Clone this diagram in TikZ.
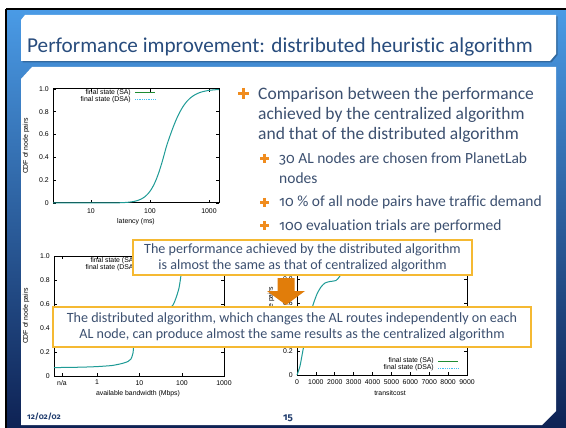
\documentclass[tikz,border=0pt]{standalone}
\usepackage{fontspec}
\setmainfont{Carlito}[Ligatures=NoCommon]
\newfontfamily\osf{Fira Sans}[Numbers=OldStyle]
\newfontfamily\plotfont{Liberation Sans}
\newcommand\plotfs{\plotfont\fontsize{6.9}{8}\selectfont}
\newcommand\titlefs{\fontsize{21.2}{24}\selectfont}
\newcommand\mainfs{\fontsize{17.5}{20}\selectfont}
\newcommand\subfs{\fontsize{15.5}{17}\selectfont}
\newcommand\calloutfs{\fontsize{14.1}{16}\selectfont}
\newcommand\onum[1]{{\osf\fontsize{0.92\dimexpr\csname f@size\endcsname pt\relax}{10}\selectfont #1}}
\definecolor{bgtop}{RGB}{74,155,230}
\definecolor{bgmid}{RGB}{42,105,190}
\definecolor{bgbot}{RGB}{14,34,84}
\definecolor{titlecol}{RGB}{40,76,125}
\definecolor{textcol}{RGB}{60,80,112}
\definecolor{footcol}{RGB}{32,60,110}
\definecolor{pluscol}{RGB}{240,140,30}
\definecolor{calloutcol}{RGB}{245,185,50}
\definecolor{arrowcol}{RGB}{225,125,10}
\definecolor{curvecol}{RGB}{30,155,150}
\definecolor{sagreen}{RGB}{30,140,50}
\definecolor{dsacyan}{RGB}{70,190,240}
\begin{document}
\begin{tikzpicture}[x=1pt,y=-1pt,
  declare function={logi(\z)=1/(1+exp(-1.702*max(-5,min(5,\z))));
    zA(\x)=((\x-166.5)/59)/((\x<166.5)*0.22+(\x>=166.5)*0.28);},
  frame/.style={draw=black,line width=1},
  tickline/.style={black,line width=0.7},
  ylab/.style={anchor=east,font=\plotfs,inner sep=0},
  xlab/.style={anchor=north,font=\plotfs,inner sep=0},
  axlab/.style={font=\plotfs,inner sep=0},
  leg/.style={anchor=east,font=\plotfs,inner sep=0},
  curve/.style={draw=curvecol,line width=1},
  salegend/.style={draw=sagreen,line width=1},
  dsalegend/.style={draw=dsacyan,line width=1,dash pattern=on 1pt off 0.8pt},
  callout/.style={draw=calloutcol,line width=1.5,fill=white,inner sep=0,align=center,text=textcol,font=\calloutfs},
  bodytext/.style={anchor=base west,inner sep=0,text=textcol},
  plusmark/.style={draw=pluscol,line width=2.4},
  subplus/.style={draw=pluscol,line width=2.1},
]
\useasboundingbox (0,0) rectangle (566,428);
\fill[white] (0,0) rectangle (566,428);
% slide background
\shade[top color=bgtop, middle color=bgmid, bottom color=bgbot] (6,9) rectangle (566,428);
\draw[black,line width=2] (6,9) -- (566,9);
\draw[black,line width=2] (6,9) -- (6,428);
% title box
\fill[black,opacity=0.25] (26.5,16.5) -- (557.5,16.5) -- (557.5,55) -- (551.5,62.5) -- (22.5,62.5) -- (22.5,21.5) -- cycle;
\fill[white] (25,15) -- (556,15) -- (556,54) -- (550,61) -- (21,61) -- (21,20) -- cycle;
% content box
\fill[white] (32,67) -- (556,67) -- (556,411) -- (542,425) -- (21,425) -- (21,79) -- cycle;
\node[anchor=base west,inner sep=0,font=\titlefs,text=titlecol] (title) at (27,53) {Performance improvement: distributed heuristic algorithm};

% ---------- plot 1: latency ----------
\draw[frame] (53,89) rectangle (219,203);
\foreach \c/\t [count=\i] in {0/0,0.2/0.2,0.4/0.4,0.6/0.6,0.8/0.8,1/1.0}{
  \draw[tickline] (53,{203-114*\c}) -- ++(3,0);
  \draw[tickline] (219,{203-114*\c}) -- ++(-3,0);
  \node[ylab] (pay\i) at (49,{203-114*\c}) {\t};
}
\foreach \p/\t [count=\i] in {91/10,150/100,209/1000}{
  \draw[tickline] (\p,203) -- ++(0,-3);
  \draw[tickline] (\p,89) -- ++(0,3);
  \node[xlab] (pax\i) at (\p,208) {\t};
}
\node[axlab] (paxl) at (136,222) {latency (ms)};
\node[axlab,rotate=90] (payl) at (26,146) {CDF of node pairs};
\draw[curve] plot[domain=53:219,samples=120] (\x,{203-114*logi(zA(\x))});
\node[leg] (pal1) at (131,93) {final state (SA)};
\node[leg] (pal2) at (131,100) {final state (DSA)};
\draw[salegend] (135,93) -- (155,93);
\draw[dsalegend] (135,100) -- (155,100);

% ---------- plot 2: bandwidth ----------
\draw[frame] (54,256) rectangle (224,376);
\foreach \c/\t [count=\i] in {0/0,0.2/0.2,0.4/0.4,0.6/0.6,0.8/0.8,1/1.0}{
  \draw[tickline] (54,{376-120*\c}) -- ++(3,0);
  \draw[tickline] (224,{376-120*\c}) -- ++(-3,0);
  \node[ylab] (pby\i) at (50,{376-120*\c}) {\t};
}
\foreach \p/\t [count=\i] in {62/n\slash a,97/1,139.5/10,182/100,224/1000}{
  \draw[tickline] (\p,376) -- ++(0,-3);
  \draw[tickline] (\p,256) -- ++(0,3);
  \node[xlab] (pbx\i) at (\p,380) {\t};
}
\node[axlab] (pbxl) at (138,394) {available bandwidth (Mbps)};
\node[axlab,rotate=90] (pbyl) at (26,316) {CDF of node pairs};
\draw[curve] plot[smooth,tension=0.4] coordinates {(54,367.6) (80,367.2) (97,366.6) (112,365.5) (122,363.5) (128,361.5) (131,359) (133,353) (134.5,340) (140,330) (155,320) (168,310) (173,305) (176,298) (179,288) (181,275) (182,262) (183,256) (224,256)};
\node[leg] (pbl1) at (136,261) {final state (SA)};
\node[leg] (pbl2) at (136,268) {final state (DSA)};
\draw[salegend] (140,261) -- (160,261);
\draw[dsalegend] (140,268) -- (160,268);

% ---------- plot 3: transit cost ----------
\draw[frame] (297,255) rectangle (467,375);
\foreach \c/\t [count=\i] in {0/0,0.2/0.2,0.4/0.4,0.6/0.6,0.8/0.8,1/1.0}{
  \draw[tickline] (297,{375-120*\c}) -- ++(3,0);
  \draw[tickline] (467,{375-120*\c}) -- ++(-3,0);
  \node[ylab] (pcy\i) at (293,{375-120*\c}) {\t};
}
\foreach \k [count=\i] in {0,1000,2000,3000,4000,5000,6000,7000,8000,9000}{
  \draw[tickline] ({297+0.01889*\k},375) -- ++(0,-3);
  \draw[tickline] ({297+0.01889*\k},255) -- ++(0,3);
  \node[xlab] (pcx\i) at ({297+0.01889*\k},379) {\k};
}
\node[axlab] (pcxl) at (390,393) {transitcost};
\node[axlab,rotate=90] (pcyl) at (271,315) {CDF of node pairs};
\draw[curve] plot[smooth,tension=0.4] coordinates {(297,375) (300,366) (303,350) (306,335) (309,320) (313,305) (317,294) (321,287) (325,283) (330,281.5) (336,280.5) (340,276) (345,268) (350,260) (355,256) (360,255) (467,255)};
\node[leg] (pcl1) at (434,361) {final state (SA)};
\node[leg] (pcl2) at (434,368) {final state (DSA)};
\draw[salegend] (438,361) -- (458,361);
\draw[dsalegend] (438,368) -- (458,368);

% ---------- bullets ----------
\draw[plusmark] (238,93.5) -- (249,93.5) (243.5,88) -- (243.5,99);
\node[bodytext,font=\mainfs] (b1a) at (258,100) {Comparison between the performance};
\node[bodytext,font=\mainfs] (b1b) at (258,120) {achieved by the centralized algorithm};
\node[bodytext,font=\mainfs] (b1c) at (258,140) {and that of the distributed algorithm};
\foreach \yy in {158.5,202.5,225.5}{
  \draw[subplus] (260,\yy) -- (269,\yy) (264.5,\yy-4.5) -- (264.5,\yy+4.5);
}
\node[bodytext,font=\subfs] (s1a) at (279,164) {\onum{30} AL nodes are chosen from PlanetLab};
\node[bodytext,font=\subfs] (s1b) at (279,183) {nodes};
\node[bodytext,font=\subfs] (s2) at (279,207) {\onum{10} \% of all node pairs have traffic demand};
\node[bodytext,font=\subfs] (s3) at (279,230) {\onum{100} evaluation trials are performed};

% ---------- callouts ----------
\node[callout,minimum width=339pt,minimum height=35pt] (c1) at (302.5,257.5)
  {The performance achieved by the distributed algorithm\\is almost the same as that of centralized algorithm};
\fill[arrowcol] (277.5,278) -- (294.5,278) -- (294.5,291) -- (305,291) -- (286,305) -- (267,291) -- (277.5,291) -- cycle;
\node[callout,minimum width=478pt,minimum height=40pt] (c2) at (292,327)
  {The distributed algorithm, which changes the AL routes independently on each\\AL node, can produce almost the same results as the centralized algorithm};

% ---------- footer ----------
\node[anchor=base west,inner sep=0,font=\osf\bfseries\fontsize{8}{10}\selectfont,text=footcol] (date) at (27,419) {12/02/02};
\node[anchor=base,inner sep=0,font=\osf\bfseries\fontsize{10}{12}\selectfont,text=footcol] (page) at (288,420) {15};
\end{tikzpicture}
\end{document}
